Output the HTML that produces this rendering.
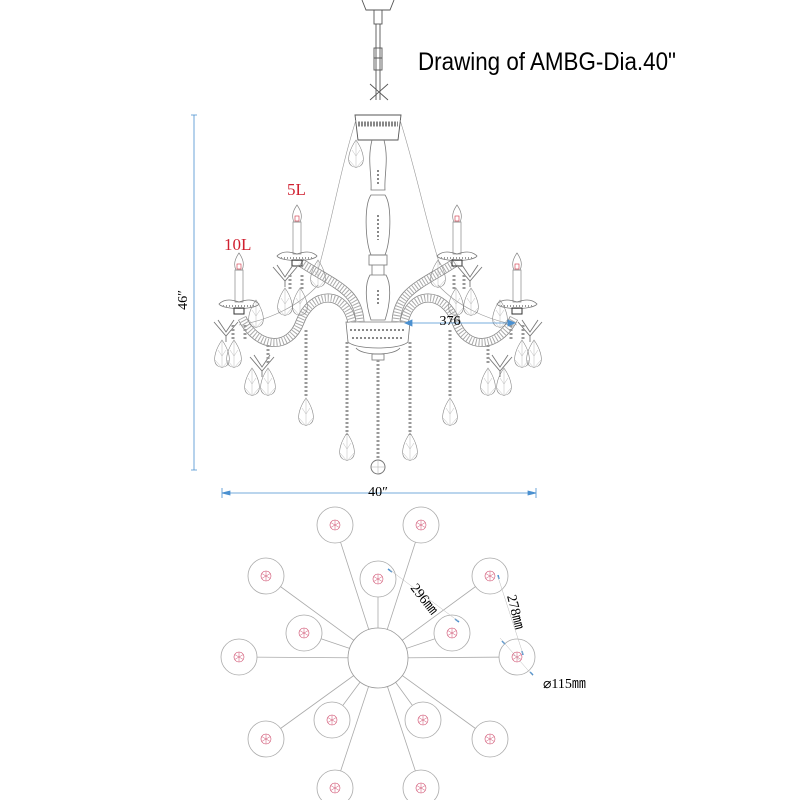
<!DOCTYPE html>
<html><head><meta charset="utf-8"><style>
html,body{margin:0;padding:0;background:#fff}
svg{display:block}
text{font-family:"Liberation Serif",serif}
</style></head><body>
<svg width="800" height="800" viewBox="0 0 800 800" xmlns="http://www.w3.org/2000/svg">
<defs>
 <g id="drop"><path d="M0,0 C-7,10 -8,18 -7,22 C-5,29 5,29 7,22 C8,18 7,10 0,0Z" fill="none" stroke="#888" stroke-width="0.6"/><path d="M0,0 L0,28 M-7,20 L0,28 L7,20 M-4,10 L0,16 L4,10" stroke="#aaa" stroke-width="0.4" fill="none"/></g>
 <g id="bud"><circle r="5" fill="none" stroke="#d05070" stroke-width="0.6"/><path d="M0,-5V5M-4.3,-2.5L4.3,2.5M-4.3,2.5L4.3,-2.5" stroke="#d05070" stroke-width="0.5"/></g>
 <g id="leaf"><path d="M-12,-8 L0,6 L12,-8 M-8,-10 L0,2 L8,-10 M0,6 V12" stroke="#777" stroke-width="0.9" fill="none"/></g>
 <g id="candle"><path d="M0,-17 C-5,-10 -5,-4 -3,0 H3 C5,-4 5,-10 0,-17Z" fill="none" stroke="#888" stroke-width="0.7"/><rect x="-2" y="-6" width="4" height="5" fill="none" stroke="#d03040" stroke-width="0.6"/><rect x="-4" y="0" width="8" height="32" fill="none" stroke="#888" stroke-width="0.7"/><path d="M-20,34 C-14,28 -6,30 0,32 C6,30 14,28 20,34 C16,40 -16,40 -20,34Z" fill="none" stroke="#777" stroke-width="0.8"/><path d="M-16,36 h32" stroke="#999" stroke-width="2" stroke-dasharray="1 2"/><rect x="-5" y="38" width="10" height="6" fill="none" stroke="#333" stroke-width="1"/></g>
</defs>

<text x="418" y="70" font-size="25" textLength="258" lengthAdjust="spacingAndGlyphs" style="font-family:'Liberation Sans',sans-serif">Drawing of AMBG-Dia.40"</text>

<g stroke="#555" fill="none" stroke-width="0.9">
<path d="M362,0 L366,10 L390,10 L394,0"/><rect x="374" y="10" width="8" height="14"/>
<path d="M376,24 V100 M380,24 V100"/><rect x="374" y="48" width="8" height="10"/><rect x="374" y="58" width="8" height="12"/>
<path d="M370,84 L388,100 M370,100 L388,84"/>
<path d="M355,115 L401,115 L398,140 L358,140Z"/>
<path d="M358,124 h40" stroke="#888" stroke-width="5" stroke-dasharray="2 1"/>
</g>
<g stroke="#777" fill="none" stroke-width="0.8">
<path d="M372,140 C367,160 372,175 371,190 L385,190 C384,175 389,160 384,140"/>
<path d="M371,195 C364,205 365,240 371,255 H385 C391,240 392,205 385,195Z"/>
<rect x="369" y="255" width="18" height="10"/>
<path d="M372,265 V275 M384,265 V275"/>
<path d="M370,275 C364,285 366,305 371,320 H385 C390,305 392,285 386,275Z"/>
<path d="M346,322 H410 L408,342 C400,350 356,350 348,342Z"/>
<path d="M356,348 C362,356 394,356 400,348"/>
<rect x="372" y="354" width="12" height="6"/>
</g>
<g stroke="#888" stroke-width="2" stroke-dasharray="2 2"><path d="M378,170V185M378,215V240M378,290V305M350,330H406M352,338H404"/></g>
<g stroke="#999" fill="none" stroke-width="0.6">
<path d="M356,120 C340,170 330,230 318,270"/><path d="M400,120 C416,170 428,230 440,265"/>
<path d="M239,325 C270,320 300,305 318,285"/><path d="M517,325 C486,320 456,305 438,285"/>
</g>
<g fill="none">
<g id="armsL">
<path d="M360,322 C358,290 335,285 300,262" stroke="#888" stroke-width="9"/>
<path d="M360,322 C358,290 335,285 300,262" stroke="#fff" stroke-width="7.4"/>
<path d="M360,322 C358,290 335,285 300,262" stroke="#aaa" stroke-width="7" stroke-dasharray="1 2"/>
<path d="M352,322 C345,290 312,290 300,322 C290,350 258,350 242,318" stroke="#888" stroke-width="9"/>
<path d="M352,322 C345,290 312,290 300,322 C290,350 258,350 242,318" stroke="#fff" stroke-width="7.4"/>
<path d="M352,322 C345,290 312,290 300,322 C290,350 258,350 242,318" stroke="#aaa" stroke-width="7" stroke-dasharray="1 2"/>
</g>
<use href="#armsL" transform="translate(756,0) scale(-1,1)"/>
</g>
<use href="#candle" transform="translate(239,270)"/>
<use href="#candle" transform="translate(297,222)"/>
<use href="#candle" transform="translate(457,222)"/>
<use href="#candle" transform="translate(517,270)"/>
<use href="#leaf" transform="translate(226,330)"/><use href="#leaf" transform="translate(285,275)"/>
<use href="#leaf" transform="translate(262,365)"/><use href="#leaf" transform="translate(530,330)"/>
<use href="#leaf" transform="translate(470,275)"/><use href="#leaf" transform="translate(500,365)"/>
<g stroke="#999" stroke-width="3" stroke-dasharray="2 2" fill="none">
<path d="M347,342V435M410,342V435M378,360V458M306,330V398M450,330V398"/>
<path d="M233,325V340M245,325V340M290,275V290M302,275V290M464,275V290M454,275V290M511,325V340M523,325V340M268,345V365M488,345V365"/>
</g>
<g>
<use href="#drop" transform="translate(347,433)"/><use href="#drop" transform="translate(410,433)"/>
<use href="#drop" transform="translate(306,398)"/><use href="#drop" transform="translate(450,398)"/>
<use href="#drop" transform="translate(356,140)"/>
<use href="#drop" transform="translate(222,340)"/><use href="#drop" transform="translate(234,340)"/><use href="#drop" transform="translate(256,300)"/>
<use href="#drop" transform="translate(252,368)"/><use href="#drop" transform="translate(268,368)"/>
<use href="#drop" transform="translate(285,288)"/><use href="#drop" transform="translate(300,288)"/><use href="#drop" transform="translate(318,260)"/>
<use href="#drop" transform="translate(522,340)"/><use href="#drop" transform="translate(534,340)"/><use href="#drop" transform="translate(500,300)"/>
<use href="#drop" transform="translate(488,368)"/><use href="#drop" transform="translate(504,368)"/>
<use href="#drop" transform="translate(456,288)"/><use href="#drop" transform="translate(471,288)"/><use href="#drop" transform="translate(438,260)"/>
</g>
<circle cx="378" cy="467" r="7" fill="none" stroke="#777"/><path d="M371,467h14M378,460v14" stroke="#aaa" stroke-width="0.5"/>

<text x="287" y="195" fill="#d02030" font-size="17">5L</text>
<text x="224" y="250" fill="#d02030" font-size="17">10L</text>

<g stroke="#4a90d0" stroke-width="0.8" fill="#4a90d0">
<path d="M194,115V470M191,115h6M191,470h6"/>
<path d="M222,493H536M222,488v10M536,488v10"/>
<path d="M405,323H515"/><path d="M405,323l7,-3v6Z"/><path d="M515,323l-7,-3v6Z"/>
<path d="M222,493l8,-2v4Z" /><path d="M536,493l-8,-2v4Z"/>
</g>
<text x="187" y="300" font-size="14" transform="rotate(-90 187 300)" text-anchor="middle">46″</text>
<text x="378" y="496" font-size="14" text-anchor="middle">40″</text>
<text x="450" y="325" font-size="14" text-anchor="middle">376</text>

<g stroke="#aaa" stroke-width="0.8" fill="none">
<path d="M378,658 L335,525 M378,658 L421,525 M378,658 L266,576 M378,658 L490,576 M378,658 L239,657 M378,658 L517,657 M378,658 L266,739 M378,658 L490,739 M378,658 L335,788 M378,658 L421,788 M378,658 L378,579 M378,658 L304,633 M378,658 L452,633 M378,658 L332,720 M378,658 L423,720"/>
</g>
<circle cx="378" cy="658" r="30" fill="#fff" stroke="#999" stroke-width="0.8"/>
<g fill="#fff" stroke="#aaa" stroke-width="0.8">
<circle cx="335" cy="525" r="18"/><circle cx="421" cy="525" r="18"/><circle cx="266" cy="576" r="18"/><circle cx="490" cy="576" r="18"/>
<circle cx="239" cy="657" r="18"/><circle cx="517" cy="657" r="18"/><circle cx="266" cy="739" r="18"/><circle cx="490" cy="739" r="18"/>
<circle cx="335" cy="788" r="18"/><circle cx="421" cy="788" r="18"/><circle cx="378" cy="579" r="18"/><circle cx="304" cy="633" r="18"/>
<circle cx="452" cy="633" r="18"/><circle cx="332" cy="720" r="18"/><circle cx="423" cy="720" r="18"/>
</g>
<use href="#bud" x="335" y="525"/><use href="#bud" x="421" y="525"/><use href="#bud" x="266" y="576"/><use href="#bud" x="490" y="576"/>
<use href="#bud" x="239" y="657"/><use href="#bud" x="517" y="657"/><use href="#bud" x="266" y="739"/><use href="#bud" x="490" y="739"/>
<use href="#bud" x="335" y="788"/><use href="#bud" x="421" y="788"/><use href="#bud" x="378" y="579"/><use href="#bud" x="304" y="633"/>
<use href="#bud" x="452" y="633"/><use href="#bud" x="332" y="720"/><use href="#bud" x="423" y="720"/>
<g stroke="#4a90d0" stroke-width="1.5">
<path d="M388,569l4,3M455,619l4,3M498,575l1,4M522,651l1,4M502,641l3,3M530,672l3,3"/>
</g>
<g stroke="#bbb" stroke-width="0.5"><path d="M390,570L458,621M498,577L523,654M500,638L533,676"/></g>
<text font-size="14" transform="translate(410,588) rotate(52)">296㎜</text>
<text font-size="14" transform="translate(507,596) rotate(76)">278㎜</text>
<text x="543" y="688" font-size="14">⌀115㎜</text>
</svg>
</body></html>
